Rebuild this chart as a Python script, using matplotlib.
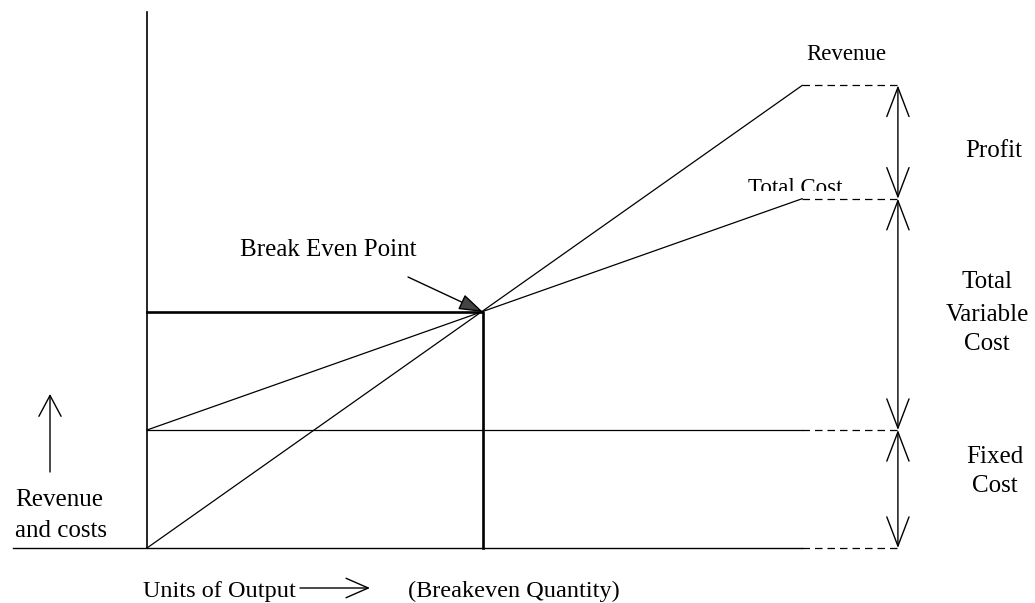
"""Break-even chart: revenue and cost lines with the break even point."""
import matplotlib
matplotlib.use('Agg')
import matplotlib.pyplot as plt
from matplotlib.patches import Rectangle

# --- data (units of output, revenue / cost) ---
q_end = 19.5            # last drawn output level
q_arrow = 22.35         # where the dashed guides end (bracket arrows)
fixed_cost = 5.0
revenue_q = [0.0, q_end]
revenue_v = [0.0, 19.6]
total_cost_q = [0.0, q_end]
total_cost_v = [fixed_cost, 14.8]
break_even = (10.0, 10.0)
y_axis_top = 22.7
x_axis_left = -3.99

W, H = 1035, 603
fig = plt.figure(figsize=(W / 100, H / 100), dpi=100)
ax = fig.add_axes([0, 0, 1, 1])
ax.set_xlim(-4.375, 26.43)
ax.set_ylim(-2.33, 23.22)
ax.axis('off')

FONT = 'Liberation Serif'


def ftext(x, y, s, size=18, **kw):
    """Text placed in image pixel coordinates (y from top, baseline)."""
    kw.setdefault('va', 'baseline')
    return fig.text(x / W, 1 - y / H, s, fontsize=size, family=FONT, **kw)


# axes lines
ax.plot([0, 0], [0, y_axis_top], color='k', lw=1.2)
ax.plot([x_axis_left, q_end], [0, 0], color='k', lw=1.0)

# fixed cost, total cost and revenue lines
ax.plot([0, q_end], [fixed_cost, fixed_cost], color='k', lw=0.9)
ax.plot(total_cost_q, total_cost_v, color='k', lw=0.9)
ax.plot(revenue_q, revenue_v, color='k', lw=0.9)

# dashed guides out to the brackets
for lvl in [0.0, fixed_cost, total_cost_v[-1], revenue_v[-1]]:
    ax.plot([q_end, q_arrow], [lvl, lvl], color='k', lw=0.9,
            linestyle=(0, (6, 4)))

# break even box
bx, by = break_even
ax.plot([0, bx, bx], [by, by, 0], color='k', lw=1.9)

# bracket arrows on the right
levels = [revenue_v[-1], total_cost_v[-1], fixed_cost, 0.0]
for top, bot in zip(levels[:-1], levels[1:]):
    ax.annotate('', xy=(q_arrow, top), xytext=(q_arrow, bot),
                arrowprops=dict(arrowstyle='<->,head_length=2.1,head_width=0.8',
                                mutation_scale=10, shrinkA=0, shrinkB=0,
                                lw=1.0, color='k'))

# labels on the right
ftext(806, 60, 'Revenue', size=16.5)
tc = ftext(748, 194, 'Total Cost', size=16.5)
tc.set_clip_path(Rectangle((0, 1 - 191 / H), 1, 191 / H,
                           transform=fig.transFigure))
ftext(965, 157, 'Profit')
ftext(987, 288, 'Total', ha='center')
ftext(987, 321, 'Variable', ha='center')
ftext(987, 350, 'Cost', ha='center')
ftext(995, 463, 'Fixed', ha='center')
ftext(995, 492, 'Cost', ha='center')

# break even pointer
ftext(240, 256, 'Break Even Point')
ax.annotate('', xy=break_even, xycoords='data',
            xytext=(408 / W, 1 - 277 / H), textcoords='figure fraction',
            arrowprops=dict(arrowstyle='-|>,head_length=1.5,head_width=0.5',
                            mutation_scale=10, shrinkA=0, shrinkB=0,
                            lw=1.0, color='k', fc='#444444'))

# left axis caption
ax.annotate('', xy=(50 / W, 1 - 394 / H), xycoords='figure fraction',
            xytext=(50 / W, 1 - 472 / H), textcoords='figure fraction',
            arrowprops=dict(arrowstyle='->,head_length=1.5,head_width=0.8',
                            mutation_scale=10, shrinkA=0, shrinkB=0,
                            lw=1.0, color='k'))
ftext(15, 506, 'Revenue')
ftext(15, 537, 'and costs')

# bottom caption
ftext(143, 597, 'Units of Output', size=17.5)
ax.annotate('', xy=(370 / W, 1 - 588 / H), xycoords='figure fraction',
            xytext=(300 / W, 1 - 588 / H), textcoords='figure fraction',
            arrowprops=dict(arrowstyle='->,head_length=1.6,head_width=0.7',
                            mutation_scale=10, shrinkA=0, shrinkB=0,
                            lw=1.0, color='k'))
ftext(408, 597, '(Breakeven Quantity)', size=17.5)

fig.savefig('out.png', dpi=100)
